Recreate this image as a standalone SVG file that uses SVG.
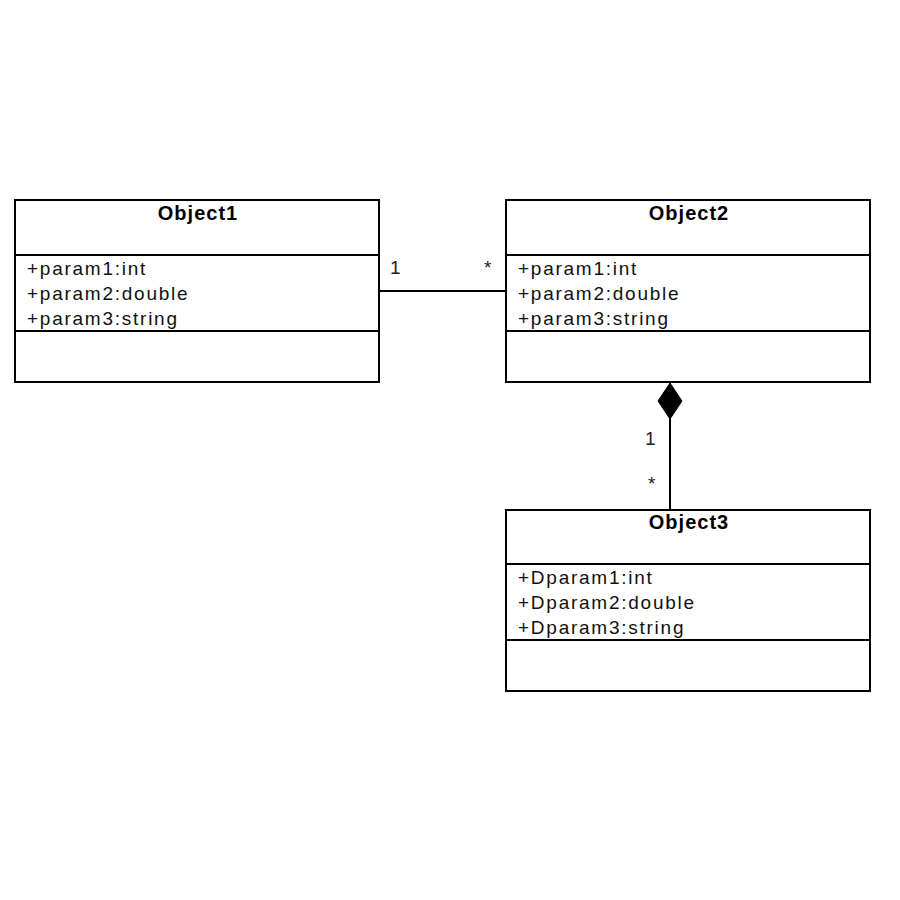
<svg xmlns="http://www.w3.org/2000/svg" width="900" height="900" viewBox="0 0 900 900">
<style>
.box{fill:#fff;stroke:#000;stroke-width:2}
.div{stroke:#000;stroke-width:2}
.title{font-family:"Liberation Sans",Arial,sans-serif;font-size:20px;font-weight:bold;text-anchor:middle;fill:#000;letter-spacing:1px}
.attr{font-family:"Liberation Sans",Arial,sans-serif;font-size:19px;fill:#111;letter-spacing:1.75px}
.mult{font-family:"Liberation Sans",Arial,sans-serif;font-size:19px;fill:#222}
.conn{stroke:#000;stroke-width:2;fill:none}
</style>
<rect width="900" height="900" fill="#fff"/>
<g id="object1">
<rect class="box" x="15" y="200" width="364" height="182"/>
<line class="div" x1="15" y1="255" x2="379" y2="255"/>
<line class="div" x1="15" y1="331" x2="379" y2="331"/>
<text class="title" x="198" y="220">Object1</text>
<text class="attr" x="27" y="275">+param1:int</text>
<text class="attr" x="27" y="300">+param2:double</text>
<text class="attr" x="27" y="325">+param3:string</text>
</g>
<g id="object2">
<rect class="box" x="506" y="200" width="364" height="182"/>
<line class="div" x1="506" y1="255" x2="870" y2="255"/>
<line class="div" x1="506" y1="331" x2="870" y2="331"/>
<text class="title" x="689" y="220">Object2</text>
<text class="attr" x="518" y="275">+param1:int</text>
<text class="attr" x="518" y="300">+param2:double</text>
<text class="attr" x="518" y="325">+param3:string</text>
</g>
<g id="object3">
<rect class="box" x="506" y="510" width="364" height="181"/>
<line class="div" x1="506" y1="564" x2="870" y2="564"/>
<line class="div" x1="506" y1="640" x2="870" y2="640"/>
<text class="title" x="689" y="529">Object3</text>
<text class="attr" x="518" y="584">+Dparam1:int</text>
<text class="attr" x="518" y="609">+Dparam2:double</text>
<text class="attr" x="518" y="634">+Dparam3:string</text>
</g>
<g id="connectors">
<line class="conn" x1="379" y1="291" x2="506" y2="291"/>
<text class="mult" x="390" y="274">1</text>
<text class="mult" x="484" y="274">*</text>
<line class="conn" x1="670" y1="418" x2="670" y2="510"/>
<polygon points="670,383 682,401 670,419 658,401" fill="#000" stroke="#000" stroke-width="1"/>
<text class="mult" x="645" y="445">1</text>
<text class="mult" x="648" y="490">*</text>
</g>
</svg>
